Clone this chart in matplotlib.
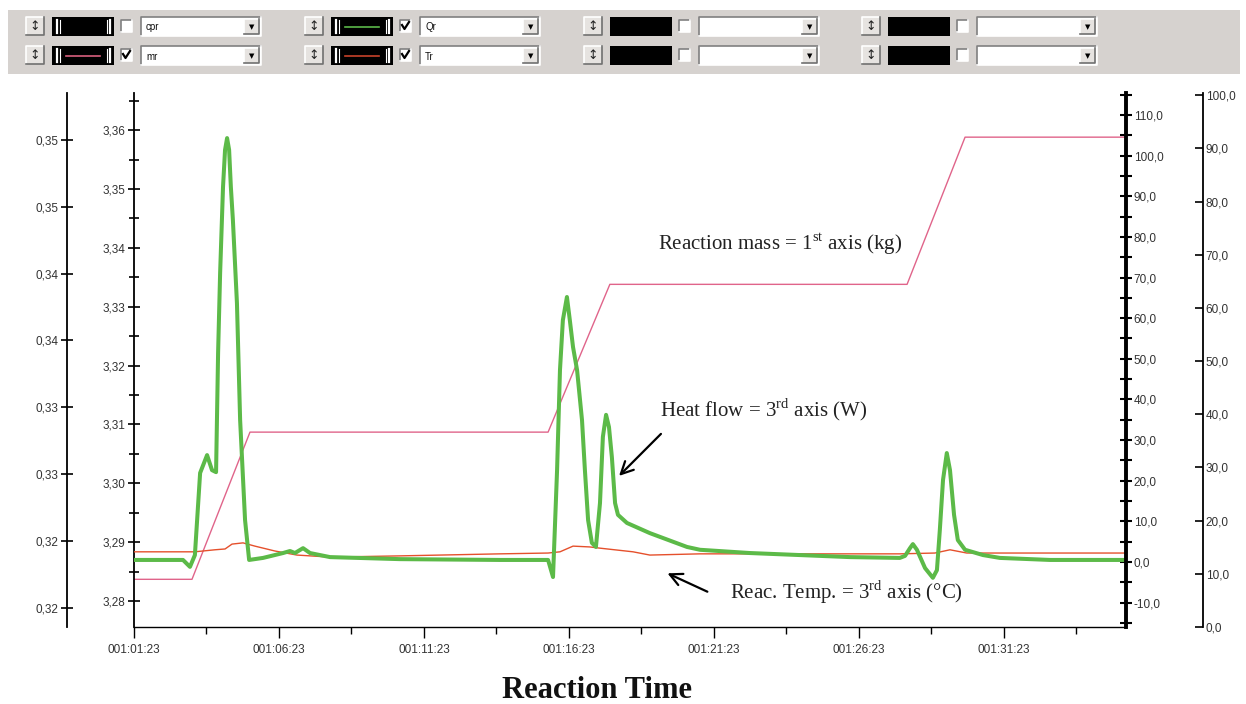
import numpy as np
import matplotlib.pyplot as plt
from matplotlib.patches import Rectangle
from matplotlib.ticker import FixedLocator, MultipleLocator, FuncFormatter

plt.rcParams['font.family'] = ['Liberation Sans', 'DejaVu Sans']
plt.rcParams['mathtext.fontset'] = 'custom'
plt.rcParams['mathtext.rm'] = 'Liberation Serif'

# -----------------------------
# Data (time in minutes after 001:01:23)
# -----------------------------
t_qr = [0.0, 1.69, 1.93, 2.10, 2.28, 2.52, 2.69, 2.83, 2.90, 2.97, 3.07, 3.14,
        3.21, 3.28, 3.34, 3.41, 3.55, 3.66, 3.83, 3.97, 4.45, 5.14, 5.38,
        5.55, 5.83, 6.07, 6.76, 9.17, 12.62,
        14.28, 14.45, 14.59, 14.69, 14.79, 14.93, 15.03, 15.14, 15.28, 15.45,
        15.55, 15.66, 15.79, 15.93, 16.07, 16.17, 16.28, 16.38, 16.48, 16.59,
        16.69, 17.00, 17.79, 19.07, 19.52, 21.24, 22.97, 24.69,
        26.41, 26.59, 26.76, 26.86, 27.00, 27.28, 27.55, 27.69, 27.79, 27.90,
        28.03, 28.14, 28.28, 28.41, 28.66, 29.28, 29.86, 31.59, 34.21]
qr = [0.5, 0.5, -1.2, 1.7, 21.9, 26.3, 22.6, 22.1, 51.4, 71.1, 92.3, 101.4,
      104.3, 101.4, 92.3, 84.2, 63.7, 34.9, 10.3, 0.5, 1.0, 2.2, 2.7,
      2.2, 3.4, 2.2, 1.2, 0.7, 0.5,
      0.5, -3.7, 22.6, 47.2, 59.5, 65.2, 59.5, 52.9, 47.2, 34.9,
      22.6, 10.3, 4.7, 3.7, 14.5, 30.8, 36.2, 33.2, 25.8, 14.5,
      11.6, 9.6, 7.1, 3.7, 3.0, 2.2, 1.7, 1.2,
      1.0, 1.5, 3.4, 4.4, 3.0, -1.5, -3.9, -2.0, 7.9, 20.2,
      26.8, 22.6, 11.6, 5.4, 3.0, 1.7, 1.0, 0.5, 0.5]

t_tr = [0.0, 2.10, 2.79, 3.14, 3.38, 3.76, 4.17, 4.86, 5.62, 6.76, 9.17, 12.62,
        14.28, 14.69, 15.14, 15.72, 16.07, 17.21, 17.79, 19.52, 22.97, 26.41,
        27.62, 28.14, 28.72, 34.21]
tr = [2.5, 2.5, 3.0, 3.2, 4.4, 4.7, 3.9, 2.7, 1.7, 1.2, 1.5, 2.0,
      2.2, 2.5, 3.9, 3.7, 3.4, 2.5, 1.7, 2.0, 2.0, 2.0,
      2.2, 3.0, 2.2, 2.2]

t_mr = [0.0, 2.0, 4.0, 14.28, 16.41, 26.66, 28.66, 34.21]
mr = [3.2837, 3.2837, 3.3087, 3.3087, 3.3338, 3.3338, 3.3588, 3.3588]

x_ticks = [0, 5, 10, 15, 20, 25, 30]
x_labels = ["001:01:23", "001:06:23", "001:11:23", "001:16:23",
            "001:21:23", "001:26:23", "001:31:23"]
cpr_ticks = [0.318, 0.323, 0.328, 0.333, 0.338, 0.343, 0.348, 0.353]
mr_ticks = [3.28, 3.29, 3.30, 3.31, 3.32, 3.33, 3.34, 3.35, 3.36]
qr_ticks = [-10, 0, 10, 20, 30, 40, 50, 60, 70, 80, 90, 100, 110]
tr_ticks = [0, 10, 20, 30, 40, 50, 60, 70, 80, 90, 100]

# toolbar rows: (series name, swatch colour, checked)
row1 = [("cpr", None, False), ("Qr", "#5cb84a", True), ("", "black", False), ("", "black", False)]
row2 = [("mr", "#d9607e", True), ("Tr", "#c8432b", True), ("", "black", False), ("", "black", False)]

GREEN = "#5cba48"
RED = "#e5502c"
PINK = "#e0648a"
TXT = "#333333"

W, H = 1246, 704
fig = plt.figure(figsize=(12.46, 7.04), dpi=100)

# -----------------------------
# Toolbar (pixel coordinates)
# -----------------------------
bar = fig.add_axes([0, 0, 1, 1])
bar.set_xlim(0, W)
bar.set_ylim(H, 0)
bar.axis('off')
bar.add_patch(Rectangle((8, 10), 1232, 64, color='#d6d2cf', lw=0))


def bevel(x, y, w, h, fill, sunken=False):
    bar.add_patch(Rectangle((x, y), w, h, facecolor=fill, edgecolor='none'))
    light, dark = ('#808080', 'white') if sunken else ('white', '#707070')
    bar.plot([x, x, x + w], [y + h, y, y], color=light, lw=1.2)
    bar.plot([x, x + w, x + w], [y + h, y + h, y], color=dark, lw=1.2)


def draw_group(x, y, name, color, checked):
    # up/down button
    bevel(x, y, 18, 18, '#e6e3e0')
    bar.text(x + 9, y + 9.5, "\u2195", ha='center', va='center', fontsize=9,
             family='DejaVu Sans', color='#222')
    # swatch
    bar.add_patch(Rectangle((x + 26, y), 62, 19, color='black', lw=0))
    if color != "black":
        for dx in (30, 33, 80, 83):
            bar.plot([x + dx + 0.5] * 2, [y + 3, y + 16], color='white',
                     lw=1.6 if dx in (30, 83) else 0.8)
        if color is not None:
            bar.plot([x + 40, x + 74], [y + 9.5, y + 9.5], color=color, lw=1.2)
    # checkbox
    bevel(x + 95, y + 3, 11, 12, 'white', sunken=True)
    if checked:
        bar.plot([x + 97, x + 99.5, x + 104], [y + 8, y + 12, y + 5],
                 color='black', lw=1.6)
    # combo box
    bevel(x + 115, y, 120, 19, 'white', sunken=True)
    bevel(x + 218, y + 2, 15, 15, '#e6e3e0')
    bar.text(x + 225.5, y + 10, "\u25BC", ha='center', va='center', fontsize=5,
             family='DejaVu Sans', color='black')
    if name:
        bar.text(x + 120, y + 10.5, name, ha='left', va='center', fontsize=7,
                 color='#111')


group_x = [26, 305, 584, 862]
for gx, (n1, c1, k1), (n2, c2, k2) in zip(group_x, row1, row2):
    draw_group(gx, 17, n1, c1, k1)
    draw_group(gx, 46, n2, c2, k2)

# -----------------------------
# Chart axes
# -----------------------------
L, R, B, T = 134, 1126, 627, 93
ax = fig.add_axes([L / W, 1 - B / H, (R - L) / W, (B - T) / H])
axA = ax.twinx()
axC = ax.twinx()
axD = ax.twinx()

fmt = FuncFormatter(lambda v, p: f"{v:.2f}".replace('.', ','))
fmt1 = FuncFormatter(lambda v, p: f"{v:.1f}".replace('.', ','))

# mass axis (main left spine)
ax.plot(t_mr, mr, color=PINK, lw=1.0)
ax.set_xlim(0, 34.21)
ax.set_ylim(3.2756, 3.3663)
ax.yaxis.set_major_locator(FixedLocator(mr_ticks))
ax.yaxis.set_minor_locator(MultipleLocator(0.005))
ax.yaxis.set_major_formatter(fmt)
ax.xaxis.set_major_locator(FixedLocator(x_ticks))
ax.xaxis.set_minor_locator(MultipleLocator(2.5))
ax.set_xticklabels(x_labels)
for s in ('top', 'right'):
    ax.spines[s].set_visible(False)
ax.spines['left'].set_linewidth(1.3)
ax.spines['bottom'].set_linewidth(1.0)
ax.tick_params(axis='y', which='major', direction='inout', length=8, width=1.2,
               labelsize=8.5, labelcolor=TXT, pad=2)
ax.tick_params(axis='y', which='minor', direction='inout', length=7, width=1.2)
ax.tick_params(axis='x', which='major', direction='out', length=8, width=1,
               labelsize=8.5, labelcolor=TXT, pad=4)
ax.tick_params(axis='x', which='minor', direction='out', length=5, width=1)

# leftmost axis
axA.set_ylim(0.31658, 0.3565)
axA.yaxis.tick_left()
axA.spines['left'].set_position(('axes', (67 - L) / (R - L)))
for s in ('top', 'right', 'bottom'):
    axA.spines[s].set_visible(False)
axA.spines['left'].set_linewidth(1.3)
axA.yaxis.set_major_locator(FixedLocator(cpr_ticks))
axA.yaxis.set_major_formatter(fmt)
axA.tick_params(axis='y', direction='inout', length=8, width=1.2,
                labelsize=8.5, labelcolor=TXT, pad=2)

# heat flow / temperature axis
axC.plot(t_tr, tr, color=RED, lw=1.0)
axC.plot(t_qr, qr, color=GREEN, lw=2.9, solid_joinstyle='round',
         solid_capstyle='round')
axC.set_ylim(-16.0, 115.4)
axC.yaxis.set_major_locator(FixedLocator(qr_ticks))
axC.yaxis.set_minor_locator(MultipleLocator(5))
axC.yaxis.set_major_formatter(fmt1)
for s in ('top', 'left', 'bottom'):
    axC.spines[s].set_visible(False)
axC.spines['right'].set_linewidth(2.8)
axC.tick_params(axis='y', which='major', direction='inout', length=9, width=1.5,
                labelsize=8.5, labelcolor=TXT, pad=1)
axC.tick_params(axis='y', which='minor', direction='inout', length=9, width=1.5)

# rightmost axis
axD.set_ylim(0, 100.4)
axD.spines['right'].set_position(('axes', (1203 - L) / (R - L)))
for s in ('top', 'left', 'bottom'):
    axD.spines[s].set_visible(False)
axD.spines['right'].set_linewidth(1.3)
axD.yaxis.set_major_locator(FixedLocator(tr_ticks))
axD.yaxis.set_major_formatter(fmt1)
axD.tick_params(axis='y', direction='in', length=6, width=1.2,
                labelsize=8.5, labelcolor=TXT, pad=2)

# -----------------------------
# Annotations
# -----------------------------
serif = dict(family='Liberation Serif', fontsize=15, color='#222222')
axC.text(18.07, 78.2, r"Reaction mass = 1$^{\mathrm{st}}$ axis (kg)",
         ha='left', va='center', **serif)
axC.text(18.14, 37.4, r"Heat flow = 3$^{\mathrm{rd}}$ axis (W)",
         ha='left', va='center', **serif)
axC.text(20.55, -7.4, r"Reac. Temp. = 3$^{\mathrm{rd}}$ axis (°C)",
         ha='left', va='center', **serif)
axC.annotate("", xy=(16.66, 20.7), xytext=(18.24, 32.0),
             arrowprops=dict(arrowstyle="->", color='black', lw=1.6,
                             mutation_scale=22))
axC.annotate("", xy=(18.31, -2.5), xytext=(19.86, -7.6),
             arrowprops=dict(arrowstyle="->", color='black', lw=1.6,
                             mutation_scale=22))

fig.text(597 / W, 1 - 690 / H, "Reaction Time", ha='center', va='center',
         family='Liberation Serif', fontsize=22, fontweight='bold', color='#111')

fig.savefig("out.png", dpi=100)
